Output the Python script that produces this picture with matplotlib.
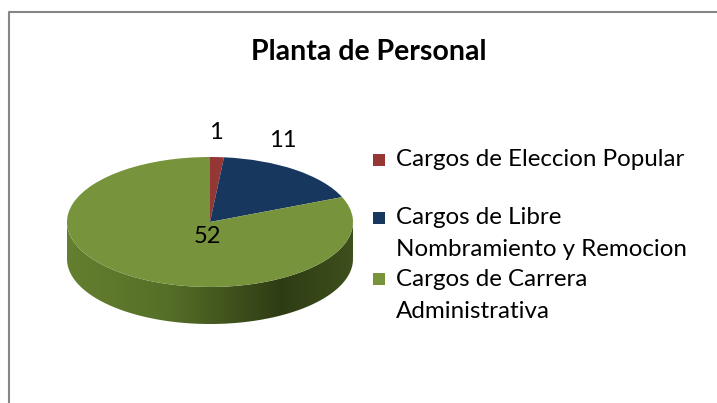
import numpy as np
import matplotlib.pyplot as plt
from matplotlib.colors import LinearSegmentedColormap
from matplotlib.patches import Polygon

labels = ["Cargos de Eleccion Popular",
          "Cargos de Libre\nNombramiento y Remocion",
          "Cargos de Carrera\nAdministrativa"]
values = [1, 11, 52]
colors = ["#953735", "#17375E", "#77933C"]

plt.rcParams['font.family'] = ['Lato', 'DejaVu Sans']

W, H = 717, 403
fig = plt.figure(figsize=(W / 100, H / 100), dpi=100)

# chart border (only top and left visible)
bg = fig.add_axes([0, 0, 1, 1])
bg.set_xlim(0, W)
bg.set_ylim(H, 0)
bg.axis('off')
bg.plot([9, 9, W], [H, 12, 12], color='#868686', lw=1.5)

fig.text(369 / W, 1 - 52 / H, "Planta de Personal", ha='center', va='center',
         fontsize=20.5, fontweight='bold')

# pie axes, squashed to look tilted
depth = 0.57
left, right, top, bottom = 67, 353, 157, 324
ax = fig.add_axes([left / W, 1 - bottom / H, (right - left) / W, (bottom - top) / H])
wedges, _ = ax.pie(values, colors=colors, startangle=90, counterclock=False,
                   radius=1, wedgeprops=dict(linewidth=0))
for w in wedges:
    w.set_zorder(3)

# side wall with gradient
t = np.linspace(np.pi, 2 * np.pi, 200)
upper = np.column_stack([np.cos(t), np.sin(t)])
lower = np.column_stack([np.cos(t[::-1]), np.sin(t[::-1]) - depth])
side = Polygon(np.vstack([upper, lower]), closed=True, facecolor='none', edgecolor='none')
ax.add_patch(side)
cmap = LinearSegmentedColormap.from_list('side', [
    (0.0, '#657F30'), (0.35, '#566F27'), (0.75, '#2E3C14'), (1.0, '#3E501C')])
grad = np.linspace(0, 1, 256).reshape(1, -1)
im = ax.imshow(grad, cmap=cmap, extent=(-1, 1, -1 - depth, 0), aspect='auto', zorder=2)
im.set_clip_path(side)

ax.set_aspect('auto')
ax.set_xlim(-1, 1)
ax.set_ylim(-1 - depth, 1)
ax.axis('off')

# data labels
label_pos = [(0.04, 1.38), (0.51, 1.25), (-0.02, -0.22)]
for v, (x, y) in zip(values, label_pos):
    ax.text(x, y, str(v), ha='center', va='center', fontsize=17, zorder=5)

# legend
legend_items = [(160, [160]), (218, [218, 250]), (279, [279, 311])]
for (ym, ys), lab, c in zip(legend_items, labels, colors):
    bg.add_patch(plt.Rectangle((373, ym - 6), 12, 12, facecolor=c, edgecolor='none'))
    for yy, line in zip(ys, lab.split('\n')):
        bg.text(396, yy, line, ha='left', va='center', fontsize=17.4)

fig.savefig('out.png', dpi=100)
